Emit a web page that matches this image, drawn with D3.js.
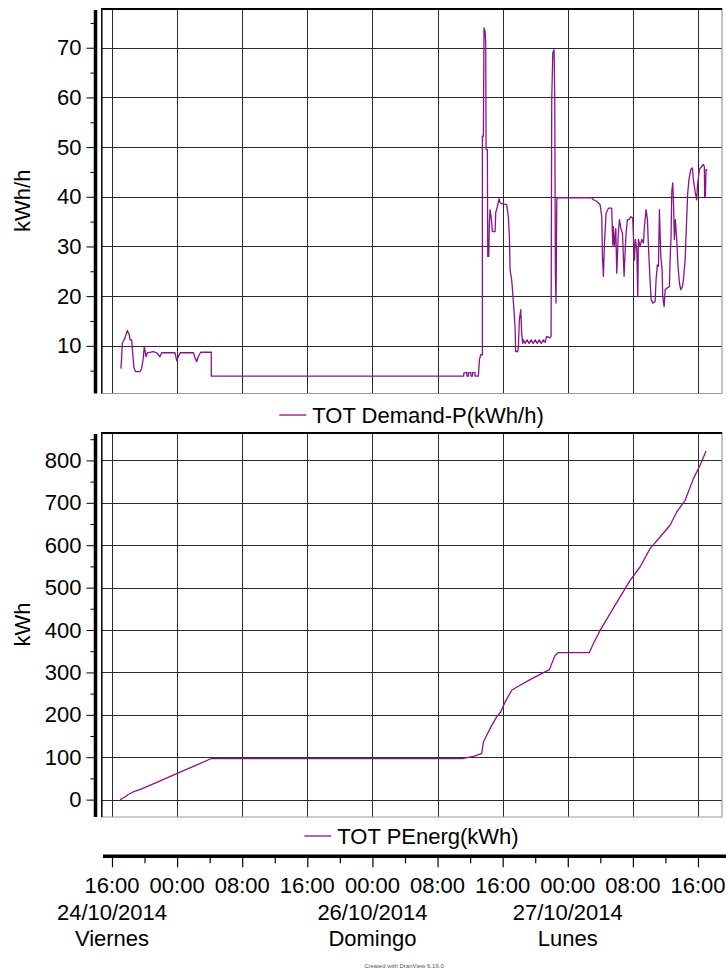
<!DOCTYPE html>
<html>
<head>
<meta charset="utf-8">
<script src="https://cdn.jsdelivr.net/npm/d3@7"></script>
<style>
  body { margin: 0; background: #fff; }
  svg { display: block; font-family: "Liberation Sans", Arial, sans-serif; }
</style>
</head>
<body>
<div id="chart"></div>
<script>
// horas desde el 24/10/2014 16:00
const demandHours = [1.1, 1.19, 1.27, 1.39, 1.6, 1.88, 2.13, 2.21, 2.42, 2.54, 2.7, 2.91, 3.44, 3.65, 3.85, 3.97,
  4.18, 4.34, 5.08, 5.49, 5.9, 6.1, 7.74, 7.95, 8.15, 8.36, 10.0, 10.2, 10.4, 10.6, 10.9, 12.2, 12.2,
  43.2, 43.26, 43.6, 43.6, 43.8, 43.8, 44.1, 44.1, 44.3, 44.3, 44.6, 44.6, 45.02,
  45.14, 45.31, 45.51, 45.51, 45.63, 45.71, 45.84, 45.92, 45.96, 46.12, 46.17, 46.29, 46.37, 46.45,
  46.62, 46.74, 47.07, 47.15, 47.35, 47.56, 47.68, 47.89, 48.5, 48.7, 48.83, 48.91, 49.11, 49.32,
  49.52, 49.6, 49.85, 49.93, 50.05, 50.22, 50.34, 50.47, 50.55, 50.75, 51.0, 51.25, 51.5, 51.75,
  52.0, 52.25, 52.5, 52.75, 53.0, 53.21, 53.41, 53.82, 53.95, 54.03, 54.16, 54.32, 54.4, 54.48,
  54.56, 54.65, 54.73, 58.95, 59.15, 59.56, 59.97, 60.18, 60.26, 60.38, 60.5, 60.71, 61.0, 61.4,
  61.53, 61.6, 61.73, 61.9, 62.02, 62.22, 62.35, 62.55, 62.72, 62.92, 63.04, 63.17, 63.33, 63.53,
  63.74, 63.98, 64.07, 64.19, 64.31, 64.48, 64.6, 64.68, 64.89, 65.09, 65.3, 65.42, 65.62, 65.79,
  65.91, 66.11, 66.24, 66.44, 66.73, 66.85, 67.01, 67.14, 67.26, 67.43, 67.59, 67.67, 67.84, 67.96,
  68.17, 68.49, 68.57, 68.69, 68.78, 68.9, 68.98, 69.1, 69.22, 69.39, 69.52, 69.72, 69.88, 70.09,
  70.21, 70.42, 70.62, 70.74, 70.9, 71.11, 71.31, 71.43, 71.64, 71.85, 71.93, 72.17, 72.46, 72.66,
  72.78, 72.82, 72.91, 72.95, 72.99, 73.11];
const demandValues = [5.4, 7.8, 10.6, 10.9, 11.6, 13.1, 12.2, 11.2, 11.2, 8.6, 5.6, 4.8, 4.8, 5.5, 7.6, 9.9,
  7.8, 8.6, 8.85, 8.6, 7.8, 8.6, 8.6, 7.0, 7.8, 8.6, 8.6, 7.6, 6.8, 7.8, 8.7, 8.7, 3.9,
  3.9, 4.6, 4.6, 3.9, 3.9, 4.6, 4.6, 3.9, 3.9, 4.6, 4.6, 3.9, 3.9,
  7.2, 8.2, 8.2, 52.2, 52.2, 74, 73.3, 71, 49.5, 49.5, 28, 28, 34.8, 37.4,
  35.4, 33, 33, 36.8, 38, 39.6, 38.8, 38.6, 38.4, 36, 32, 25.3, 23.3, 18.9,
  13.9, 8.85, 8.85, 9.6, 15.2, 17.3, 12.5, 10.5, 11.2, 10.5, 11.2, 10.5, 11.2, 10.5,
  11.2, 10.5, 11.2, 10.5, 11.2, 10.7, 11.9, 11.6, 11.9, 59.6, 69, 69.6, 59.6, 24.6,
  18.6, 39.4, 39.8, 39.8, 39.4, 39.1, 38.4, 36, 28, 24, 30.3, 36.7, 37.7, 37.7,
  30.3, 34, 30, 33.6, 24.6, 33, 35.4, 33.4, 32.7, 24, 28.7, 32.7, 35.4, 35.4,
  36, 35.7, 32, 27.3, 31.4, 29.4, 19.9, 31.4, 30, 31.4, 30.7, 34, 37.4, 35.4,
  30, 23.3, 19.3, 18.6, 18.9, 23.3, 26.3, 26, 37.4, 28, 25.3, 19.9, 17.9, 21.3,
  21.6, 21.9, 27.3, 32, 41.1, 42.8, 39.4, 31.4, 35.4, 31.4, 26.7, 22.6, 21.3, 21.9,
  23.3, 27.3, 36, 40.8, 43.5, 45.5, 45.8, 43.5, 41.1, 39.4, 42.1, 45.5, 46.1, 46.5,
  46.1, 40.1, 40.1, 42.8, 45.5, 45.2];

const energyHours = [1.0, 1.5, 2.0, 2.6, 3.5, 6.0, 9.0, 10.8, 12.2, 43.17, 44.4, 45.43, 45.63, 46.04, 46.66,
  47.27, 47.76, 48.3, 49.11, 50.14, 51.37, 52.6, 53.74, 54.03, 54.44, 54.85, 58.66, 59.15, 59.97,
  61.2, 62.43, 63.66, 64.88, 66.11, 67.34, 68.57, 69.39, 70.42, 71.44, 72.26, 72.99];
const energyValues = [0, 5, 12, 18, 24, 45, 70, 85, 97, 97, 102, 108.5, 136, 152, 175,
  195, 206.6, 230, 258, 269.6, 283, 295.5, 306.6, 320.7, 340, 346.7, 346.7, 368, 399,
  438.7, 478, 517, 548.6, 592, 619.3, 647, 678.5, 706, 757, 788.4, 822];

const demandTicks = [10, 20, 30, 40, 50, 60, 70];
const demandMinorTicks = [5, 15, 25, 35, 45, 55, 65, 75];
const energyTicks = [0, 100, 200, 300, 400, 500, 600, 700, 800];
const energyMinorTicks = [50, 150, 250, 350, 450, 550, 650, 750, 850];
const timeTickHours = [0, 8, 16, 24, 32, 40, 48, 56, 64, 72];
const timeMinorHours = [4, 12, 20, 28, 36, 44, 52, 60, 68];
const dateLabelHours = [0, 32, 56];
const dateLabels = ["24/10/2014", "26/10/2014", "27/10/2014"];
const dayLabels = ["Viernes", "Domingo", "Lunes"];

const width = 726, height = 969;
const plotLeft = 101, plotRight = 722;
const purple = "#8b128b";
const t0 = Date.UTC(2014, 9, 24, 16);
const toDate = h => new Date(t0 + h * 3600e3);

const svg = d3.select("#chart").append("svg")
  .attr("width", width).attr("height", height);

const x = d3.scaleUtc()
  .domain([toDate(-1.35), toDate(74.95)])
  .range([plotLeft, plotRight]);

const panels = [
  { top: 8, bottom: 393.5, domain: [0.4, 78], ticks: demandTicks, minor: demandMinorTicks,
    unit: "kWh/h", legend: "TOT Demand-P(kWh/h)", legendY: 423,
    hours: demandHours, values: demandValues, id: "c1" },
  { top: 432, bottom: 817, domain: [-41, 867], ticks: energyTicks, minor: energyMinorTicks,
    unit: "kWh", legend: "TOT PEnerg(kWh)", legendY: 844,
    hours: energyHours, values: energyValues, id: "c2" }
];

panels.forEach(p => {
  const y = d3.scaleLinear().domain(p.domain).range([p.bottom, p.top]);
  const g = svg.append("g");

  // rejilla
  g.append("g").selectAll("line").data(p.ticks).join("line")
    .attr("x1", plotLeft).attr("x2", plotRight)
    .attr("y1", d => Math.round(y(d)) + 0.5).attr("y2", d => Math.round(y(d)) + 0.5)
    .attr("stroke", "#2b2b2b").attr("stroke-width", 1);
  g.append("g").selectAll("line").data(timeTickHours).join("line")
    .attr("x1", d => Math.round(x(toDate(d))) + 0.5).attr("x2", d => Math.round(x(toDate(d))) + 0.5)
    .attr("y1", p.top).attr("y2", p.bottom)
    .attr("stroke", "#2b2b2b").attr("stroke-width", 1);

  // marco
  g.append("line").attr("x1", plotLeft).attr("x2", plotRight).attr("y1", p.bottom).attr("y2", p.bottom)
    .attr("stroke", "#999").attr("stroke-width", 1.2);
  g.append("line").attr("x1", plotRight).attr("x2", plotRight).attr("y1", p.top).attr("y2", p.bottom)
    .attr("stroke", "#999").attr("stroke-width", 1.2);
  g.append("line").attr("x1", plotLeft).attr("x2", plotRight).attr("y1", p.top + 1).attr("y2", p.top + 1)
    .attr("stroke", "#000").attr("stroke-width", 2);
  g.append("line").attr("x1", plotLeft + 0.8).attr("x2", plotLeft + 0.8).attr("y1", p.top).attr("y2", p.bottom)
    .attr("stroke", "#111").attr("stroke-width", 1.6);

  // eje Y
  const axis = g.append("g").attr("transform", "translate(95.5,0)");
  axis.append("g")
    .call(d3.axisLeft(y).tickValues(p.ticks).tickSize(9).tickPadding(5).tickFormat(d3.format("d")));
  axis.append("g")
    .call(d3.axisLeft(y).tickValues(p.minor.filter(v => v <= p.domain[1])).tickSize(5).tickFormat(""));
  axis.selectAll(".domain").remove();
  axis.selectAll(".tick line").attr("stroke", "#000");
  axis.selectAll(".tick text").attr("fill", "#000")
    .style("font-size", "22px").style("font-family", "'Liberation Sans', Arial, sans-serif");
  axis.append("line").attr("x1", 0).attr("x2", 0).attr("y1", p.top + 2).attr("y2", p.bottom)
    .attr("stroke", "#000").attr("stroke-width", 3.5);

  g.append("text")
    .attr("transform", `translate(30,${(p.top + p.bottom) / 2}) rotate(-90)`)
    .attr("text-anchor", "middle")
    .style("font-size", "22px")
    .text(p.unit);

  // serie
  svg.append("clipPath").attr("id", p.id).append("rect")
    .attr("x", plotLeft).attr("y", p.top).attr("width", plotRight - plotLeft).attr("height", p.bottom - p.top);
  const pts = p.hours.map((h, i) => [toDate(h), p.values[i]]);
  g.append("path")
    .datum(pts)
    .attr("clip-path", `url(#${p.id})`)
    .attr("fill", "none")
    .attr("stroke", purple)
    .attr("stroke-width", 1.3)
    .attr("stroke-linejoin", "round")
    .attr("d", d3.line().x(d => x(d[0])).y(d => y(d[1])));

  // leyenda
  const leg = g.append("g");
  const txt = leg.append("text").attr("x", 33).attr("y", p.legendY)
    .style("font-size", "22px").text(p.legend);
  leg.append("line").attr("x1", 0).attr("x2", 27)
    .attr("y1", p.legendY - 8).attr("y2", p.legendY - 8)
    .attr("stroke", purple).attr("stroke-width", 1.3);
  const w = 33 + txt.node().getComputedTextLength();
  leg.attr("transform", `translate(${(plotLeft + plotRight) / 2 - w / 2},0)`);
});

// eje de tiempo
const axisY = 856.3;
svg.append("line").attr("x1", 103).attr("x2", width).attr("y1", axisY).attr("y2", axisY)
  .attr("stroke", "#000").attr("stroke-width", 3.5);
const tAxis = svg.append("g").attr("transform", `translate(0,${axisY})`);
tAxis.append("g")
  .call(d3.axisBottom(x).tickValues(timeTickHours.map(toDate)).tickSize(11).tickFormat(""));
tAxis.append("g")
  .call(d3.axisBottom(x).tickValues(timeMinorHours.map(toDate)).tickSize(7).tickFormat(""));
tAxis.selectAll(".domain").remove();
tAxis.selectAll(".tick line").attr("stroke", "#000").attr("stroke-width", 1.2);

svg.append("g").selectAll("text").data(timeTickHours).join("text")
  .attr("x", d => x(toDate(d))).attr("y", 893)
  .attr("text-anchor", "middle").style("font-size", "22px")
  .text(d => d3.utcFormat("%H:%M")(toDate(d)));

svg.append("g").selectAll("text").data(dateLabelHours).join("text")
  .attr("x", d => x(toDate(d))).attr("y", 920)
  .attr("text-anchor", "middle").style("font-size", "22px")
  .text((d, i) => dateLabels[i]);

svg.append("g").selectAll("text").data(dateLabelHours).join("text")
  .attr("x", d => x(toDate(d))).attr("y", 946)
  .attr("text-anchor", "middle").style("font-size", "22px")
  .text((d, i) => dayLabels[i]);

svg.append("text").attr("x", 404).attr("y", 968)
  .attr("text-anchor", "middle").style("font-size", "6px").attr("fill", "#555")
  .text("Created with DranView 6.16.0");
</script>
</body>
</html>
